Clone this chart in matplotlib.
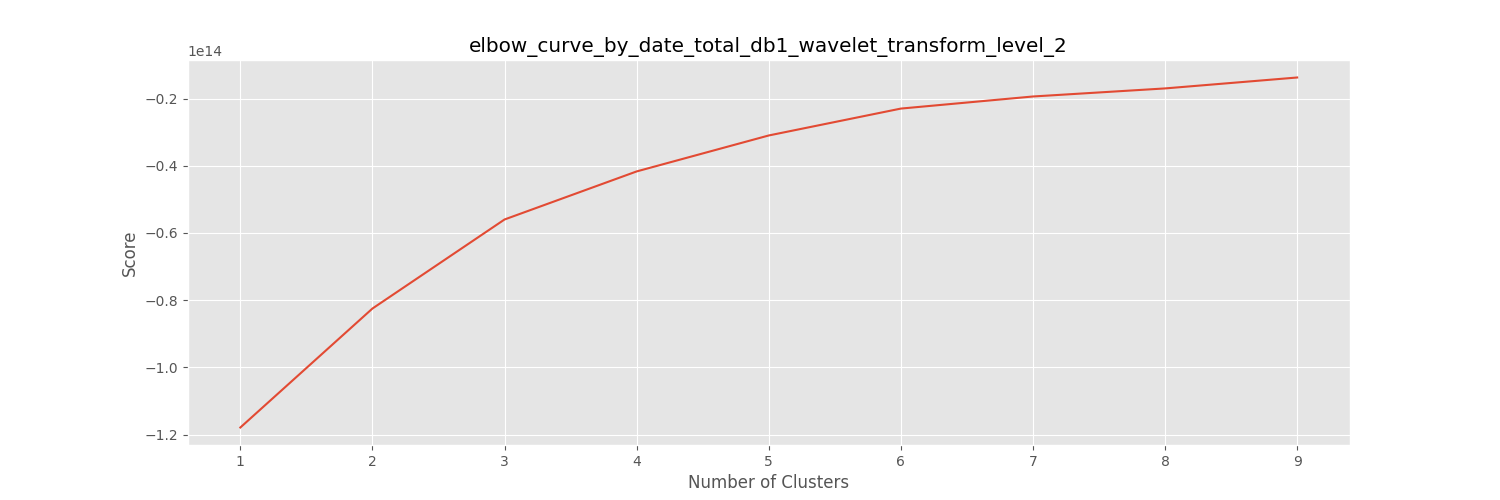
import numpy as np
import matplotlib
matplotlib.use('Agg')
import matplotlib.pyplot as plt

plt.style.use('ggplot')

# Elbow curve values
n_clusters = [1, 2, 3, 4, 5, 6, 7, 8, 9]
scores = np.array([-1.179, -0.825, -0.560, -0.417, -0.310, -0.230, -0.194, -0.170, -0.1375]) * 1e14

plt.figure(figsize=(15, 5))
plt.plot(n_clusters, scores)
plt.xlabel('Number of Clusters')
plt.ylabel('Score')
plt.title('elbow_curve_by_date_total_db1_wavelet_transform_level_2')
plt.savefig('out.png', dpi=100)
